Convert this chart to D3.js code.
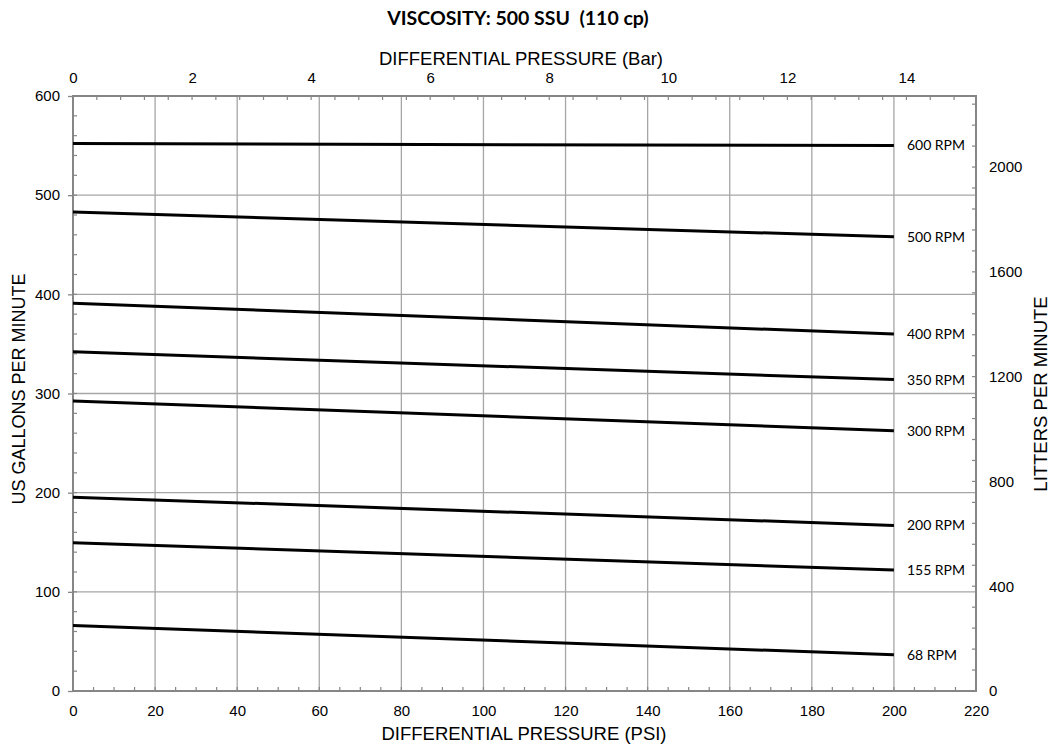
<!DOCTYPE html>
<html><head><meta charset="utf-8">
<script src="https://cdn.jsdelivr.net/npm/d3@7"></script>
<style>
body{margin:0;background:#fff;}
svg text{fill:#000;}
</style></head>
<body><svg id="c" width="1053" height="750"></svg>
<script>
const rpmLabels = ["600 RPM","500 RPM","400 RPM","350 RPM","300 RPM","200 RPM","155 RPM","68 RPM"];
const flowAt0 = [552, 483, 391, 342, 292.5, 195.5, 149.5, 66];
const flowAt200 = [550, 458, 360, 314, 262.5, 167, 122, 36.5];
const psiPoints = [0, 200];
const psiTicks = [0,20,40,60,80,100,120,140,160,180,200,220];
const barTicks = [0,2,4,6,8,10,12,14];
const gpmTicks = [0,100,200,300,400,500,600];
const lpmTicks = [0,400,800,1200,1600,2000];

const svg = d3.select("#c");
const L=73, R=976, T=96, B=691;
const x = d3.scaleLinear().domain([0,220]).range([L,R]);
const y = d3.scaleLinear().domain([0,600]).range([B,T]);
const xBar = d3.scaleLinear().domain([0,220/14.5038]).range([L,R]);
const yL = d3.scaleLinear().domain([0,600*3.78541]).range([B,T]);

const gridC="#a6a6a6", axC="#868686";
const tickFont="Liberation Sans, Arial, sans-serif";

// grid
svg.append("g").selectAll("line").data(psiTicks.filter(d=>d>0&&d<220)).join("line")
  .attr("x1",d=>x(d)).attr("x2",d=>x(d)).attr("y1",T).attr("y2",B)
  .attr("stroke",gridC).attr("stroke-width",1.3);
svg.append("g").selectAll("line").data(gpmTicks.filter(d=>d>0&&d<600)).join("line")
  .attr("y1",d=>y(d)).attr("y2",d=>y(d)).attr("x1",L).attr("x2",R)
  .attr("stroke",gridC).attr("stroke-width",1.3);

// minor ticks
const minorPsi = d3.range(0,221,5);
svg.append("g").selectAll("line").data(minorPsi).join("line")
  .attr("x1",d=>x(d)).attr("x2",d=>x(d)).attr("y1",B).attr("y2",B-4)
  .attr("stroke",axC).attr("stroke-width",1.2);
const minorBar = d3.range(0,15.17,0.4).map(v=>+v.toFixed(1));
svg.append("g").selectAll("line").data(minorBar).join("line")
  .attr("x1",d=>xBar(d)).attr("x2",d=>xBar(d)).attr("y1",T).attr("y2",T+4)
  .attr("stroke",axC).attr("stroke-width",1.2);
const minorGpm = d3.range(0,601,20);
svg.append("g").selectAll("line").data(minorGpm).join("line")
  .attr("y1",d=>y(d)).attr("y2",d=>y(d)).attr("x1",L).attr("x2",L+4)
  .attr("stroke",axC).attr("stroke-width",1.2);
const minorLpm = d3.range(0,2271,80);
svg.append("g").selectAll("line").data(minorLpm).join("line")
  .attr("y1",d=>yL(d)).attr("y2",d=>yL(d)).attr("x1",R).attr("x2",R-4)
  .attr("stroke",axC).attr("stroke-width",1.2);

// axes
const axB = svg.append("g").attr("transform",`translate(0,${B})`)
  .call(d3.axisBottom(x).tickValues(psiTicks).tickSize(0).tickPadding(14));
const axT = svg.append("g").attr("transform",`translate(0,${T})`)
  .call(d3.axisTop(xBar).tickValues(barTicks).tickSize(0).tickPadding(13));
const axLft = svg.append("g").attr("transform",`translate(${L},0)`)
  .call(d3.axisLeft(y).tickValues(gpmTicks).tickSize(5).tickPadding(8));
const axRt = svg.append("g").attr("transform",`translate(${R},0)`)
  .call(d3.axisRight(yL).tickValues(lpmTicks).tickFormat(d3.format("d")).tickSize(0).tickPadding(13));
[axB,axT,axLft,axRt].forEach(g=>{
  g.attr("font-size",null).attr("font-family",null);
  g.select(".domain").remove();
  g.selectAll(".tick line").attr("stroke",axC).attr("stroke-width",1.3);
  g.selectAll("text").style("font-family",tickFont).style("font-size","15px").attr("fill","#000");
});

// frame
svg.append("rect").attr("x",L).attr("y",T).attr("width",R-L).attr("height",B-T)
  .attr("fill","none").attr("stroke",axC).attr("stroke-width",2);

// series
const series = rpmLabels.map((n,i)=>({name:n, pts:[[psiPoints[0],flowAt0[i]],[psiPoints[1],flowAt200[i]]]}));
const line = d3.line().x(d=>x(d[0])).y(d=>y(d[1]));
svg.append("g").selectAll("path").data(series).join("path")
  .attr("d",d=>line(d.pts)).attr("fill","none").attr("stroke","#000").attr("stroke-width",3);
svg.append("g").selectAll("text").data(series).join("text")
  .attr("x",x(200)+13).attr("y",d=>y(d.pts[1][1])).attr("dy","0.35em")
  .style("font-family","Lato, Open Sans, sans-serif").style("font-size","14px")
  .text(d=>d.name);

// titles
svg.append("text").attr("x",518).attr("y",25).attr("text-anchor","middle")
  .style("font-family","Lato, sans-serif").style("font-weight","bold").style("font-size","19.5px")
  .style("white-space","pre")
  .text("VISCOSITY: 500 SSU  (110 cp)");
svg.append("text").attr("x",521).attr("y",65).attr("text-anchor","middle")
  .style("font-family",tickFont).style("font-size","18.5px").text("DIFFERENTIAL PRESSURE (Bar)");
svg.append("text").attr("x",524).attr("y",740).attr("text-anchor","middle")
  .style("font-family",tickFont).style("font-size","18.5px").text("DIFFERENTIAL PRESSURE (PSI)");
svg.append("text").attr("transform","translate(25,389) rotate(-90)").attr("text-anchor","middle")
  .style("font-family",tickFont).style("font-size","18px").text("US GALLONS PER MINUTE");
svg.append("text").attr("transform","translate(1047,394) rotate(-90)").attr("text-anchor","middle")
  .style("font-family",tickFont).style("font-size","18.5px").text("LITTERS PER MINUTE");
</script></body></html>
